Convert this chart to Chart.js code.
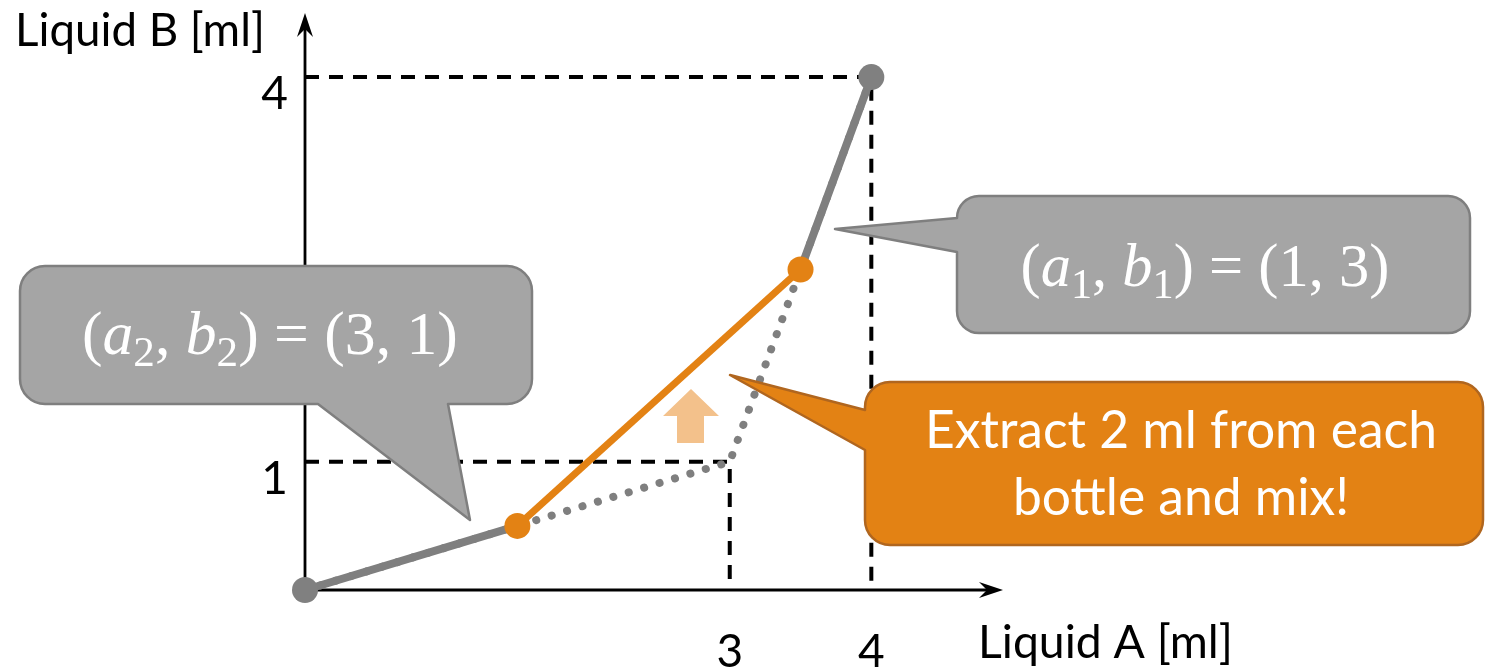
<!DOCTYPE html>
<html>
<head>
<meta charset="utf-8">
<script src="https://cdn.jsdelivr.net/npm/chart.js@4"></script>
<style>
  html, body { margin: 0; padding: 0; background: #fff; }
  canvas { display: block; }
</style>
</head>
<body>
<canvas id="myChart" width="1486" height="672"></canvas>
<script>
// cumulative curve: bottle 2 (3,1) first, then bottle 1 (1,3)
const curveA = [0, 3, 4];
const curveB = [0, 1, 4];
// after taking 2 ml from each bottle and mixing
const mixA = [0, 1.5, 3.5, 4];
const mixB = [0, 0.5, 2.5, 4];
const xTicks = [3, 4];
const yTicks = [1, 4];
const xTitle = 'Liquid A [ml]';
const yTitle = 'Liquid B [ml]';
const noteLines = ['Extract 2 ml from each', 'bottle and mix!'];

const GRAY = '#7f7f7f';
const ORANGE = '#e38214';
const TEXT_FONT = 'Lato, "Open Sans", sans-serif';
const MATH_FONT = '"Liberation Serif", serif';

var pts = function(xs, ys){
  return xs.map((x, i) => ({x: x, y: ys[i]}));
}

// dashed guides from both axes to the corner points of the curve
var guides = [1, 2].map(i => ({
  data: [{x: 0, y: curveB[i]}, {x: curveA[i], y: curveB[i]}, {x: curveA[i], y: 0}],
  borderColor: '#000',
  borderWidth: 4,
  borderDash: [14, 10],
  pointRadius: 0,
  order: 5
}));

var grayData = [
  {x: mixA[0], y: mixB[0]}, {x: mixA[1], y: mixB[1]},
  {x: (mixA[1] + mixA[2]) / 2, y: null},
  {x: mixA[2], y: mixB[2]}, {x: mixA[3], y: mixB[3]}
];

var arrowHead = function(ctx, x, y, ang){
  ctx.save();
  ctx.translate(x, y);
  ctx.rotate(ang);
  ctx.beginPath();
  ctx.moveTo(0, 0);
  ctx.lineTo(-24, -8);
  ctx.lineTo(-16, 0);
  ctx.lineTo(-24, 8);
  ctx.closePath();
  ctx.fill();
  ctx.restore();
}

var calloutPath = function(ctx, x1, y1, x2, y2, r, side, a, b, tx, ty){
  ctx.beginPath();
  ctx.moveTo(x1 + r, y1);
  ctx.lineTo(x2 - r, y1);
  ctx.arcTo(x2, y1, x2, y1 + r, r);
  ctx.lineTo(x2, y2 - r);
  ctx.arcTo(x2, y2, x2 - r, y2, r);
  if (side === 'bottom') {
    ctx.lineTo(b, y2);
    ctx.lineTo(tx, ty);
    ctx.lineTo(a, y2);
  }
  ctx.lineTo(x1 + r, y2);
  ctx.arcTo(x1, y2, x1, y2 - r, r);
  if (side === 'left') {
    ctx.lineTo(x1, b);
    ctx.lineTo(tx, ty);
    ctx.lineTo(x1, a);
  }
  ctx.lineTo(x1, y1 + r);
  ctx.arcTo(x1, y1, x1 + r, y1, r);
  ctx.closePath();
}

var fitSize = function(ctx, text, family, width){
  ctx.font = '100px ' + family;
  return 100 * width / ctx.measureText(text).width;
}

// (a_i, b_i) = (p, q) drawn in runs so that a, b are italic and indices are subscripts
var drawMath = function(ctx, idx, vals, cx, baseline, width){
  var runs = [
    {t: '('}, {t: 'a', it: true}, {t: idx, sub: true}, {t: ', '},
    {t: 'b', it: true}, {t: idx, sub: true}, {t: ') = (' + vals[0] + ', ' + vals[1] + ')'}
  ];
  var fontFor = function(run, size){
    if (run.sub) return (size * 0.7) + 'px ' + MATH_FONT;
    return (run.it ? 'italic ' : '') + size + 'px ' + MATH_FONT;
  }
  var total = 0;
  runs.forEach(run => { ctx.font = fontFor(run, 100); total += ctx.measureText(run.t).width; });
  var size = 100 * width / total;
  var x = cx - width / 2;
  ctx.textAlign = 'left';
  ctx.textBaseline = 'alphabetic';
  runs.forEach(run => {
    ctx.font = fontFor(run, size);
    ctx.fillText(run.t, x, baseline + (run.sub ? size * 0.2 : 0));
    x += ctx.measureText(run.t).width;
  });
}

var extras = {
  id: 'extras',
  beforeDatasetsDraw: function(chart){
    var ctx = chart.ctx, xs = chart.scales.x, ys = chart.scales.y;
    var x0 = xs.getPixelForValue(0), y0 = ys.getPixelForValue(0);
    ctx.save();
    ctx.strokeStyle = '#000';
    ctx.fillStyle = '#000';
    ctx.lineWidth = 2.8;
    ctx.beginPath();
    ctx.moveTo(x0, y0); ctx.lineTo(xs.right - 12, y0);
    ctx.moveTo(x0, y0); ctx.lineTo(x0, ys.top + 12);
    ctx.stroke();
    arrowHead(ctx, xs.right, y0, 0);
    arrowHead(ctx, x0, ys.top, -Math.PI / 2);
    ctx.restore();
  },
  afterDatasetsDraw: function(chart){
    var ctx = chart.ctx, xs = chart.scales.x, ys = chart.scales.y;
    var x0 = xs.getPixelForValue(0), y0 = ys.getPixelForValue(0);
    ctx.save();
    ctx.fillStyle = '#000';

    // tick labels
    ctx.font = '46px ' + TEXT_FONT;
    ctx.textAlign = 'right';
    ctx.textBaseline = 'middle';
    yTicks.forEach(v => ctx.fillText(String(v), x0 - 17, ys.getPixelForValue(v) + 17));
    ctx.textAlign = 'center';
    ctx.textBaseline = 'alphabetic';
    xTicks.forEach(v => ctx.fillText(String(v), xs.getPixelForValue(v), y0 + 77));

    // axis titles
    ctx.textAlign = 'left';
    ctx.font = fitSize(ctx, yTitle, TEXT_FONT, 250) + 'px ' + TEXT_FONT;
    ctx.fillText(yTitle, 15, 46);
    ctx.font = fitSize(ctx, xTitle, TEXT_FONT, 255) + 'px ' + TEXT_FONT;
    ctx.fillText(xTitle, 978, 658);

    // light "moves up" arrow
    ctx.fillStyle = '#f3c18b';
    ctx.beginPath();
    ctx.moveTo(691, 389);
    ctx.lineTo(719, 416);
    ctx.lineTo(704, 416);
    ctx.lineTo(704, 443);
    ctx.lineTo(677, 443);
    ctx.lineTo(677, 416);
    ctx.lineTo(663, 416);
    ctx.closePath();
    ctx.fill();

    // callouts
    ctx.lineWidth = 2.5;
    ctx.lineJoin = 'round';
    ctx.fillStyle = '#a5a5a5';
    ctx.strokeStyle = GRAY;
    calloutPath(ctx, 20, 266, 532, 404, 25, 'bottom', 318, 448, 470, 520);
    ctx.fill(); ctx.stroke();
    calloutPath(ctx, 957, 196, 1470, 333, 22, 'left', 218, 252, 835, 229);
    ctx.fill(); ctx.stroke();
    ctx.fillStyle = ORANGE;
    ctx.strokeStyle = '#b0661f';
    calloutPath(ctx, 865, 382, 1483, 545, 25, 'left', 410, 450, 730, 375);
    ctx.fill(); ctx.stroke();

    ctx.fillStyle = '#fff';
    drawMath(ctx, '2', [3, 1], 270, 354, 376);
    drawMath(ctx, '1', [1, 3], 1205, 286, 369);

    var size = fitSize(ctx, noteLines[0], TEXT_FONT, 512);
    ctx.font = size + 'px ' + TEXT_FONT;
    ctx.textAlign = 'center';
    ctx.fillText(noteLines[0], 1181, 448);
    ctx.fillText(noteLines[1], 1181, 515);
    ctx.restore();
  }
};

var ctx = document.getElementById('myChart');
var myChart = new Chart(ctx, {
  type: 'line',
  data: {
    datasets: guides.concat([
      {
        data: pts(curveA, curveB),
        borderColor: GRAY,
        borderWidth: 8,
        borderDash: [0.1, 16],
        borderCapStyle: 'round',
        pointRadius: 0,
        order: 4
      },
      {
        data: grayData,
        borderColor: GRAY,
        borderWidth: 8,
        spanGaps: false,
        pointRadius: [13, 0, 0, 0, 13],
        pointBackgroundColor: '#808080',
        pointBorderWidth: 0,
        order: 3
      },
      {
        data: pts(mixA.slice(1, 3), mixB.slice(1, 3)),
        borderColor: ORANGE,
        borderWidth: 7,
        pointRadius: 13,
        pointBackgroundColor: ORANGE,
        pointBorderWidth: 0,
        order: 2
      }
    ])
  },
  options: {
    responsive: false,
    animation: false,
    devicePixelRatio: 1,
    layout: { padding: { left: 305, right: 483, top: 13, bottom: 82 } },
    scales: {
      x: { type: 'linear', min: 0, max: 4.93, display: false },
      y: { type: 'linear', min: 0, max: 4.5, display: false }
    },
    elements: { line: { tension: 0 } },
    datasets: { line: { clip: false } },
    plugins: { legend: { display: false }, tooltip: { enabled: false } }
  },
  plugins: [extras]
});
</script>
</body>
</html>
